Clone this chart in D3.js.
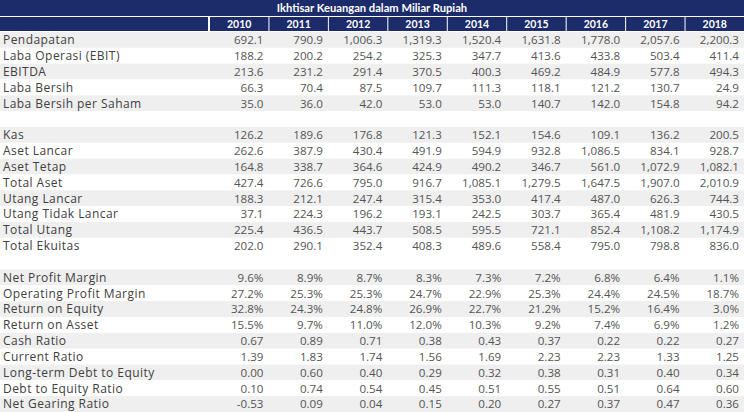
<!DOCTYPE html>
<html><head><meta charset="utf-8">
<script src="https://cdn.jsdelivr.net/npm/d3@7"></script>
<style>
html,body{margin:0;padding:0;background:#fff;}
svg{display:block;}
</style></head>
<body>
<svg id="chart" width="744" height="412"></svg>
<script>
const title = "Ikhtisar Keuangan dalam Miliar Rupiah";
const years = ["2010","2011","2012","2013","2014","2015","2016","2017","2018"];

const incomeLabels = ["Pendapatan","Laba Operasi (EBIT)","EBITDA","Laba Bersih","Laba Bersih per Saham"];
const incomeValues = [
  [692.1, 790.9, 1006.3, 1319.3, 1520.4, 1631.8, 1778.0, 2057.6, 2200.3],
  [188.2, 200.2, 254.2, 325.3, 347.7, 413.6, 433.8, 503.4, 411.4],
  [213.6, 231.2, 291.4, 370.5, 400.3, 469.2, 484.9, 577.8, 494.3],
  [66.3, 70.4, 87.5, 109.7, 111.3, 118.1, 121.2, 130.7, 24.9],
  [35.0, 36.0, 42.0, 53.0, 53.0, 140.7, 142.0, 154.8, 94.2]
];

const balanceLabels = ["Kas","Aset Lancar","Aset Tetap","Total Aset","Utang Lancar","Utang Tidak Lancar","Total Utang","Total Ekuitas"];
const balanceValues = [
  [126.2, 189.6, 176.8, 121.3, 152.1, 154.6, 109.1, 136.2, 200.5],
  [262.6, 387.9, 430.4, 491.9, 594.9, 932.8, 1086.5, 834.1, 928.7],
  [164.8, 338.7, 364.6, 424.9, 490.2, 346.7, 561.0, 1072.9, 1082.1],
  [427.4, 726.6, 795.0, 916.7, 1085.1, 1279.5, 1647.5, 1907.0, 2010.9],
  [188.3, 212.1, 247.4, 315.4, 353.0, 417.4, 487.0, 626.3, 744.3],
  [37.1, 224.3, 196.2, 193.1, 242.5, 303.7, 365.4, 481.9, 430.5],
  [225.4, 436.5, 443.7, 508.5, 595.5, 721.1, 852.4, 1108.2, 1174.9],
  [202.0, 290.1, 352.4, 408.3, 489.6, 558.4, 795.0, 798.8, 836.0]
];

const marginLabels = ["Net Profit Margin","Operating Profit Margin","Return on Equity","Return on Asset"];
const marginValues = [
  [9.6, 8.9, 8.7, 8.3, 7.3, 7.2, 6.8, 6.4, 1.1],
  [27.2, 25.3, 25.3, 24.7, 22.9, 25.3, 24.4, 24.5, 18.7],
  [32.8, 24.3, 24.8, 26.9, 22.7, 21.2, 15.2, 16.4, 3.0],
  [15.5, 9.7, 11.0, 12.0, 10.3, 9.2, 7.4, 6.9, 1.2]
];

const ratioLabels = ["Cash Ratio","Current Ratio","Long-term Debt to Equity","Debt to Equity Ratio","Net Gearing Ratio"];
const ratioValues = [
  [0.67, 0.89, 0.71, 0.38, 0.43, 0.37, 0.22, 0.22, 0.27],
  [1.39, 1.83, 1.74, 1.56, 1.69, 2.23, 2.23, 1.33, 1.25],
  [0.00, 0.60, 0.40, 0.29, 0.32, 0.38, 0.31, 0.40, 0.34],
  [0.10, 0.74, 0.54, 0.45, 0.51, 0.55, 0.51, 0.64, 0.60],
  [-0.53, 0.09, 0.04, 0.15, 0.20, 0.27, 0.37, 0.47, 0.36]
];

const loc = d3.formatLocale({decimal: ".", thousands: ",", grouping: [3], currency: ["", ""], minus: "-"});
const fAmt = loc.format(",.1f");
const fPct = v => loc.format(".1f")(v) + "%";
const fRat = loc.format(".2f");

const rows = [];
function addSection(labels, values, fmt) {
  labels.forEach((l, i) => rows.push({label: l, values: values[i].map(fmt), stripe: i % 2 === 0}));
}
addSection(incomeLabels, incomeValues, fAmt);
rows.push({label: "", values: [], stripe: false});
addSection(balanceLabels, balanceValues, fAmt);
rows.push({label: "", values: [], stripe: false});
const ratioRows = marginLabels.map((l, i) => ({label: l, values: marginValues[i].map(fPct)}))
  .concat(ratioLabels.map((l, i) => ({label: l, values: ratioValues[i].map(fRat)})));
ratioRows.forEach((r, i) => rows.push({label: r.label, values: r.values, stripe: i % 2 === 0}));

const W = 744, H = 412;
const labelW = 209;
const navy = "#1c2b69";
const font = "'Open Sans', Lato, sans-serif";
const hfont = "Lato, 'Open Sans', sans-serif";

const svg = d3.select("#chart");

const x = d3.scaleBand().domain(years).range([labelW, W]).paddingInner(0);
const y = d3.scaleBand().domain(d3.range(rows.length)).range([32, H]).paddingInner(0);

// Title bar
svg.append("rect").attr("x", 0).attr("y", 0).attr("width", W).attr("height", 16).attr("fill", navy);
svg.append("text").attr("x", W / 2).attr("y", 12.2).attr("text-anchor", "middle")
  .attr("fill", "#fff").attr("font-family", hfont).attr("font-weight", "bold").attr("font-size", "11.2px")
  .text(title);

// Header row
svg.append("rect").attr("x", 0).attr("y", 17).attr("width", labelW - 1).attr("height", 14).attr("fill", navy);
const hdr = svg.append("g");
hdr.selectAll("rect").data(years).join("rect")
  .attr("x", d => x(d) + 1).attr("y", 17).attr("width", x.bandwidth() - 1).attr("height", 14).attr("fill", navy);
hdr.selectAll("text").data(years).join("text")
  .attr("x", d => x(d) + x.bandwidth() / 2 + 0.5).attr("y", 28.2).attr("text-anchor", "middle")
  .attr("fill", "#fff").attr("font-family", hfont).attr("font-weight", "bold").attr("font-size", "10.5px")
  .text(d => d);

// Body rows
const body = svg.append("g");
const rg = body.selectAll("g.row").data(rows).join("g").attr("class", "row")
  .attr("transform", (d, i) => `translate(0,${y(i)})`);
rg.append("rect").attr("x", 0).attr("y", 0).attr("width", W).attr("height", y.bandwidth())
  .attr("fill", d => d.stripe ? "#efefef" : "#ffffff");
rg.append("text").attr("x", 3).attr("y", y.bandwidth() / 2 + 4.3)
  .attr("fill", "#404040").attr("font-family", font).attr("font-size", "12px")
  .attr("letter-spacing", "0.45px")
  .text(d => d.label);
rg.each(function(d) {
  d3.select(this).selectAll("text.v").data(d.values.map((v, j) => ({v, yr: years[j]}))).join("text")
    .attr("class", "v")
    .attr("x", e => x(e.yr) + x.bandwidth() - 5).attr("y", y.bandwidth() / 2 + 4.3)
    .attr("text-anchor", "end")
    .attr("fill", "#555555").attr("font-family", font).attr("font-size", "11.6px")
    .text(e => e.v);
});
</script>
</body></html>
